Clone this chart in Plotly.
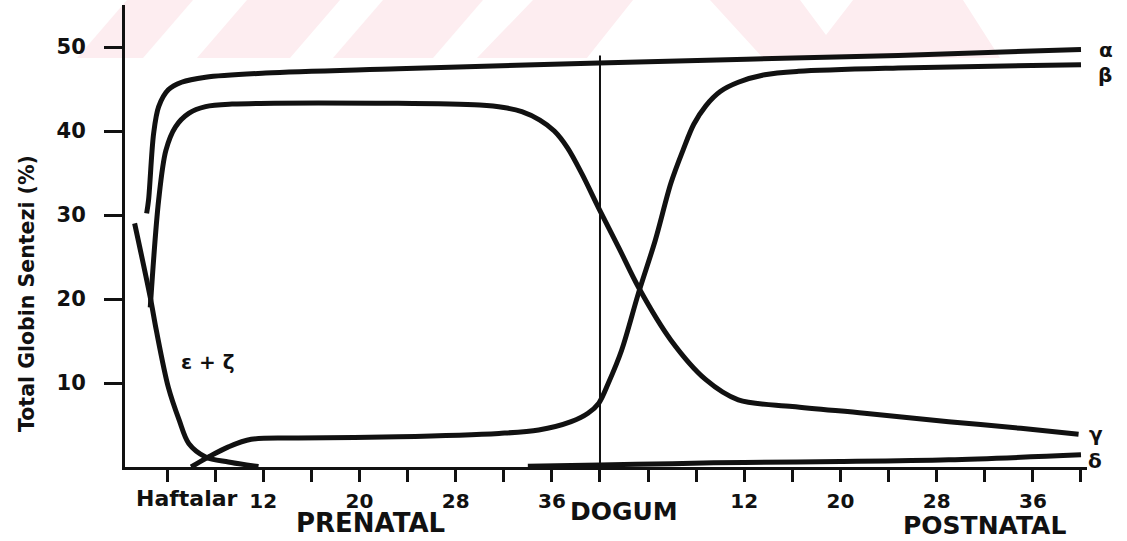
import plotly.graph_objects as go

# ---- data (weeks counted from conception; birth = week 40) ----
birth_week = 40
tick_weeks = list(range(4, 81, 4))
tick_text = ["", "", "12", "", "20", "", "28", "", "36", "",
             "", "", "12", "", "20", "", "28", "", "36", ""]
y_ticks = [10, 20, 30, 40, 50]

alpha_w = [2.3, 2.46, 2.88, 3.3, 4.1, 5.2, 7.2, 12.2, 23.2, 39.9, 64.8, 80.0]
alpha_v = [30.2, 31.8, 39.7, 42.9, 44.9, 45.8, 46.4, 46.9, 47.4, 48.1, 49.0, 49.7]

gamma_w = [2.6, 3.3, 3.9, 4.7, 5.8, 7.2, 9.4, 23.2, 30.0, 32.0, 33.5, 35.0, 36.2,
           37.3, 38.5, 39.9, 41.6, 43.2, 45.9, 48.8, 51.5, 56.0, 62.0, 69.0, 75.0, 79.8]
gamma_v = [19.0, 31.8, 37.7, 40.5, 42.1, 42.9, 43.2, 43.3, 43.1, 42.8, 42.3, 41.3, 40.0,
           38.0, 34.9, 30.8, 26.0, 21.4, 15.1, 10.4, 8.0, 7.2, 6.4, 5.4, 4.6, 3.9]

beta_w = [6.0, 7.45, 9.1, 11.0, 14.9, 23.2, 31.6, 34.9, 37.6, 39.0, 39.9, 40.7, 41.8,
          43.2, 44.6, 45.9, 46.9, 47.8, 48.8, 50.0, 51.5, 53.7, 56.5, 64.8, 80.0]
beta_v = [0.0, 1.2, 2.4, 3.3, 3.45, 3.6, 4.0, 4.4, 5.4, 6.4, 7.6, 10.0, 13.9,
          20.7, 27.0, 33.8, 37.7, 40.8, 43.0, 44.7, 45.8, 46.7, 47.1, 47.5, 47.9]

epszeta_w = [1.3, 2.6, 3.1, 4.1, 5.0, 5.8, 7.2, 9.1, 11.6]
epszeta_v = [29.0, 20.2, 16.3, 9.5, 5.6, 2.8, 1.2, 0.6, 0.05]

delta_w = [34.0, 40.0, 46.0, 52.0, 60.0, 69.0, 80.0]
delta_v = [0.1, 0.25, 0.4, 0.55, 0.65, 0.85, 1.45]

FONT = "DejaVu Sans"
INK = "#111111"

fig = go.Figure()
for xs, ys in [(alpha_w, alpha_v), (gamma_w, gamma_v), (beta_w, beta_v),
               (epszeta_w, epszeta_v), (delta_w, delta_v)]:
    fig.add_trace(go.Scatter(x=xs, y=ys, mode="lines",
                             line=dict(color=INK, width=5, shape="spline", smoothing=0.9),
                             showlegend=False, hoverinfo="skip"))

# ---- layout geometry (page 1127 x 541) ----
L, R, T, B = 125, 40, 5, 74
W, H = 1127, 541
pw, ph = W - L - R, H - T - B


def px2paper(x, y):
    return (x - L) / pw, (H - B - y) / ph


# faint pink watermark at the top of the scan
stripes = [
    [(77, 58), (143, 58), (193, 0), (127, 0)],
    [(197, 58), (290, 58), (340, 0), (247, 0)],
    [(333, 58), (433, 58), (483, 0), (383, 0)],
    [(477, 58), (587, 58), (633, 0), (533, 0)],
    [(710, 0), (800, 0), (826, 35), (853, 0), (963, 0), (1000, 58), (763, 58)],
]
shapes = []
for poly in stripes:
    pts = [px2paper(x, y) for x, y in poly]
    path = "M " + " L ".join(f"{a:.4f},{b:.4f}" for a, b in pts) + " Z"
    shapes.append(dict(type="path", path=path, xref="paper", yref="paper",
                       fillcolor="#fdedf0", line=dict(width=0), layer="below"))

# birth line
shapes.append(dict(type="line", xref="x", yref="y", x0=birth_week, x1=birth_week,
                   y0=0, y1=49, line=dict(color=INK, width=2)))

annos = []


def txt(s, x, y, size, bold=True, angle=0):
    xp, yp = px2paper(x, y)
    annos.append(dict(text=s, x=xp, y=yp, xref="paper", yref="paper",
                      xanchor="center", yanchor="middle", showarrow=False,
                      textangle=angle,
                      font=dict(family=FONT, size=size, color=INK,
                                weight="bold" if bold else "normal")))


txt("Total Globin Sentezi (%)", 27, 294, 20.5, angle=-90)
txt("Haftalar", 187, 498, 22)
txt("PRENATAL", 370, 523, 26)
txt("DOGUM", 624, 511, 25)
txt("POSTNATAL", 984, 525, 25)
txt("ε + ζ", 208, 362, 20)
txt("α", 1106, 50, 20)
txt("β", 1105, 75, 20)
txt("γ", 1096, 434, 20)
txt("δ", 1095, 461, 20)

fig.update_layout(
    width=W, height=H,
    margin=dict(l=L, r=R, t=T, b=B, pad=0),
    paper_bgcolor="white", plot_bgcolor="white",
    shapes=shapes, annotations=annos,
    xaxis=dict(range=[0.5, 80.5], tickvals=tick_weeks, ticktext=tick_text,
               showgrid=False, zeroline=False, showline=True, linecolor=INK, linewidth=3,
               ticks="outside", ticklen=12, tickwidth=2.5, tickcolor=INK,
               ticklabelstandoff=2,
               tickfont=dict(family=FONT, size=20, color=INK, weight="bold")),
    yaxis=dict(range=[0, 55], tickvals=y_ticks,
               showgrid=False, zeroline=False, showline=True, linecolor=INK, linewidth=3,
               ticks="outside", ticklen=18, tickwidth=2.5, tickcolor=INK,
               ticklabelstandoff=14,
               tickfont=dict(family=FONT, size=21, color=INK, weight="bold")),
)

fig.write_html("out.html",
               config={"displayModeBar": False},
               post_script="document.body.style.margin='0px';"
                           "document.body.style.overflow='hidden';")
